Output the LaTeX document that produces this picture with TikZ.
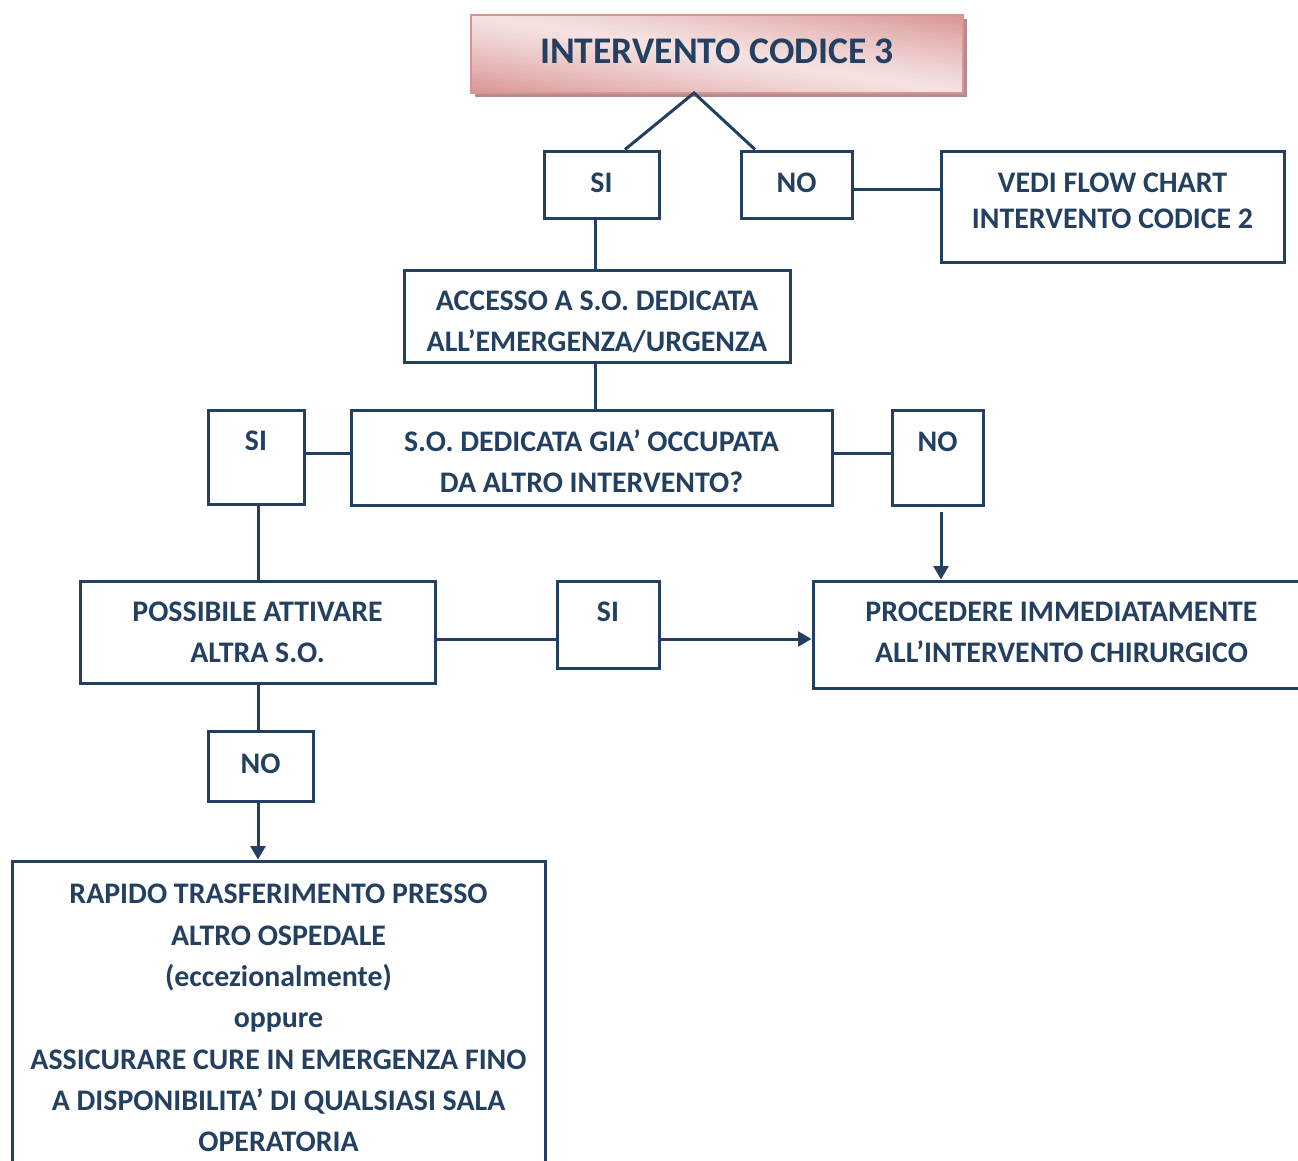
\documentclass[tikz,border=0pt]{standalone}
\usepackage{fontspec}
\setmainfont{Carlito}
\usetikzlibrary{arrows.meta,calc}
\definecolor{navy}{RGB}{36,64,97}
\definecolor{pinkdark}{RGB}{217,149,148}
\definecolor{pinklight}{RGB}{245,226,226}
\definecolor{shadowc}{RGB}{178,140,142}
\tikzset{
  x=0.75pt, y=-0.75pt,
  sz/.style 2 args={minimum width=#1*0.75pt, minimum height=#2*0.75pt},
  txt/.style={text=navy, align=center, inner sep=0pt, font=\bfseries\fontsize{22.4}{30.75}\selectfont},
  box/.style={draw=navy, line width=2.25pt, inner sep=0pt, txt},
  conn/.style={draw=navy, line width=2.25pt},
  arr/.style={conn, -{Triangle[width=11pt,length=10pt]}},
  titlebox/.style={draw=pinkdark, line width=1.5pt, inner sep=0pt,
    text=navy, font=\bfseries\fontsize{28.2}{32}\selectfont}
}
\begin{document}
\begin{tikzpicture}
\useasboundingbox (0,0) rectangle (1298,1160);
\fill[white] (0,0) rectangle (1298,1160);
\clip (0,0) rectangle (1298,1160);
% title shadow and diagonal gradient
\fill[shadowc] (475,19) rectangle (967,97);
\begin{scope}
  \clip (471,15) rectangle (963,93);
  \foreach \i in {0,...,39}{
    \pgfmathsetmacro\sa{-1+\i/20}
    \pgfmathsetmacro\sb{-1+(\i+1.3)/20}
    \pgfmathsetmacro\pc{100*(abs(-1+(\i+0.5)/20))^1.2}
    \fill[pinkdark!\pc!pinklight] (717+492*\sa-492,-24) -- (717+492*\sa+492,132)
      -- (717+492*\sb+492,132) -- (717+492*\sb-492,-24) -- cycle;
  }
\end{scope}
\node[titlebox, sz={492}{78}, label={[text=navy, font=\bfseries\fontsize{28.2}{32}\selectfont, yshift=2.2pt]center:INTERVENTO CODICE 3}] (title) at (717,54) {};
\coordinate (apex) at (694,93);
% boxes
\node[box, sz={115}{67}] (si1) at (601.5,184.5) {\raisebox{3pt}{SI}};
\node[box, sz={111}{67}] (no1) at (796.5,184.5) {\raisebox{3pt}{NO}};
\node[box, sz={343}{111}, label={[txt, font=\bfseries\fontsize{22.4}{27}\selectfont, yshift=4.5pt]center:{VEDI FLOW CHART\\INTERVENTO CODICE 2}}] (vedi) at (1112.5,206.5) {};
\node[box, sz={386}{92}, label={[txt, yshift=-4.2pt]center:{ACCESSO A S.O. DEDICATA\\ALL’EMERGENZA/URGENZA}}] (acc) at (597,316) {};
\node[box, sz={96}{94}] (si2) at (256,457) {\raisebox{24pt}{SI}};
\node[box, sz={481}{95}, label={[txt, yshift=-3pt]center:{S.O. DEDICATA GIA’ OCCUPATA\\DA ALTRO INTERVENTO?}}] (so) at (591.5,457.5) {};
\node[box, sz={91}{95}] (no2) at (937.5,457.5) {\raisebox{23pt}{NO}};
\node[box, sz={355}{102}] (poss) at (257.5,632) {POSSIBILE ATTIVARE\\ALTRA S.O.};
\node[box, sz={102}{87}] (si3) at (608,624.5) {\raisebox{19pt}{SI}};
\node[box, sz={497}{107}, label={[txt, yshift=1.5pt]center:{PROCEDERE IMMEDIATAMENTE\\ALL’INTERVENTO CHIRURGICO}}] (proc) at (1061.5,634.5) {};
\node[box, sz={105}{70}] (no3) at (260.5,766) {\raisebox{3pt}{NO}};
\node[box, sz={533}{314}, font=\bfseries\fontsize{22.4}{31}\selectfont] (rap) at (278.5,1018) {RAPIDO TRASFERIMENTO PRESSO\\ALTRO OSPEDALE\\(eccezionalmente)\\oppure\\ASSICURARE CURE IN EMERGENZA FINO\\A DISPONIBILITA’ DI QUALSIASI SALA\\OPERATORIA};
% connectors
\coordinate (h1) at (0,189);
\coordinate (h2) at (0,453);
\coordinate (h3) at (0,639);
\draw[conn, line join=miter] ($(si1.north)+(23.5,0)$) -- (apex) -- ($(no1.north)+(-41.5,0)$);
\draw[conn] (si1.south -| 595,0) -- (acc.north -| 595,0);
\draw[conn] (no1.east |- h1) -- (vedi.west |- h1);
\draw[conn] (acc.south -| 595,0) -- (so.north -| 595,0);
\draw[conn] (so.west |- h2) -- (si2.east |- h2);
\draw[conn] (so.east |- h2) -- (no2.west |- h2);
\draw[conn] (si2.south -| 258,0) -- (poss.north -| 258,0);
\coordinate (n2a) at ($(no2.south)+(3.5,5)$);
\draw[arr] (n2a) -- (n2a |- proc.north);
\draw[conn] (poss.east |- h3) -- (si3.west |- h3);
\draw[arr] (si3.east |- h3) -- (proc.west |- h3);
\draw[conn] (poss.south -| 258,0) -- (no3.north -| 258,0);
\draw[arr] (no3.south -| 258,0) -- (rap.north -| 258,0);
\end{tikzpicture}
\end{document}
